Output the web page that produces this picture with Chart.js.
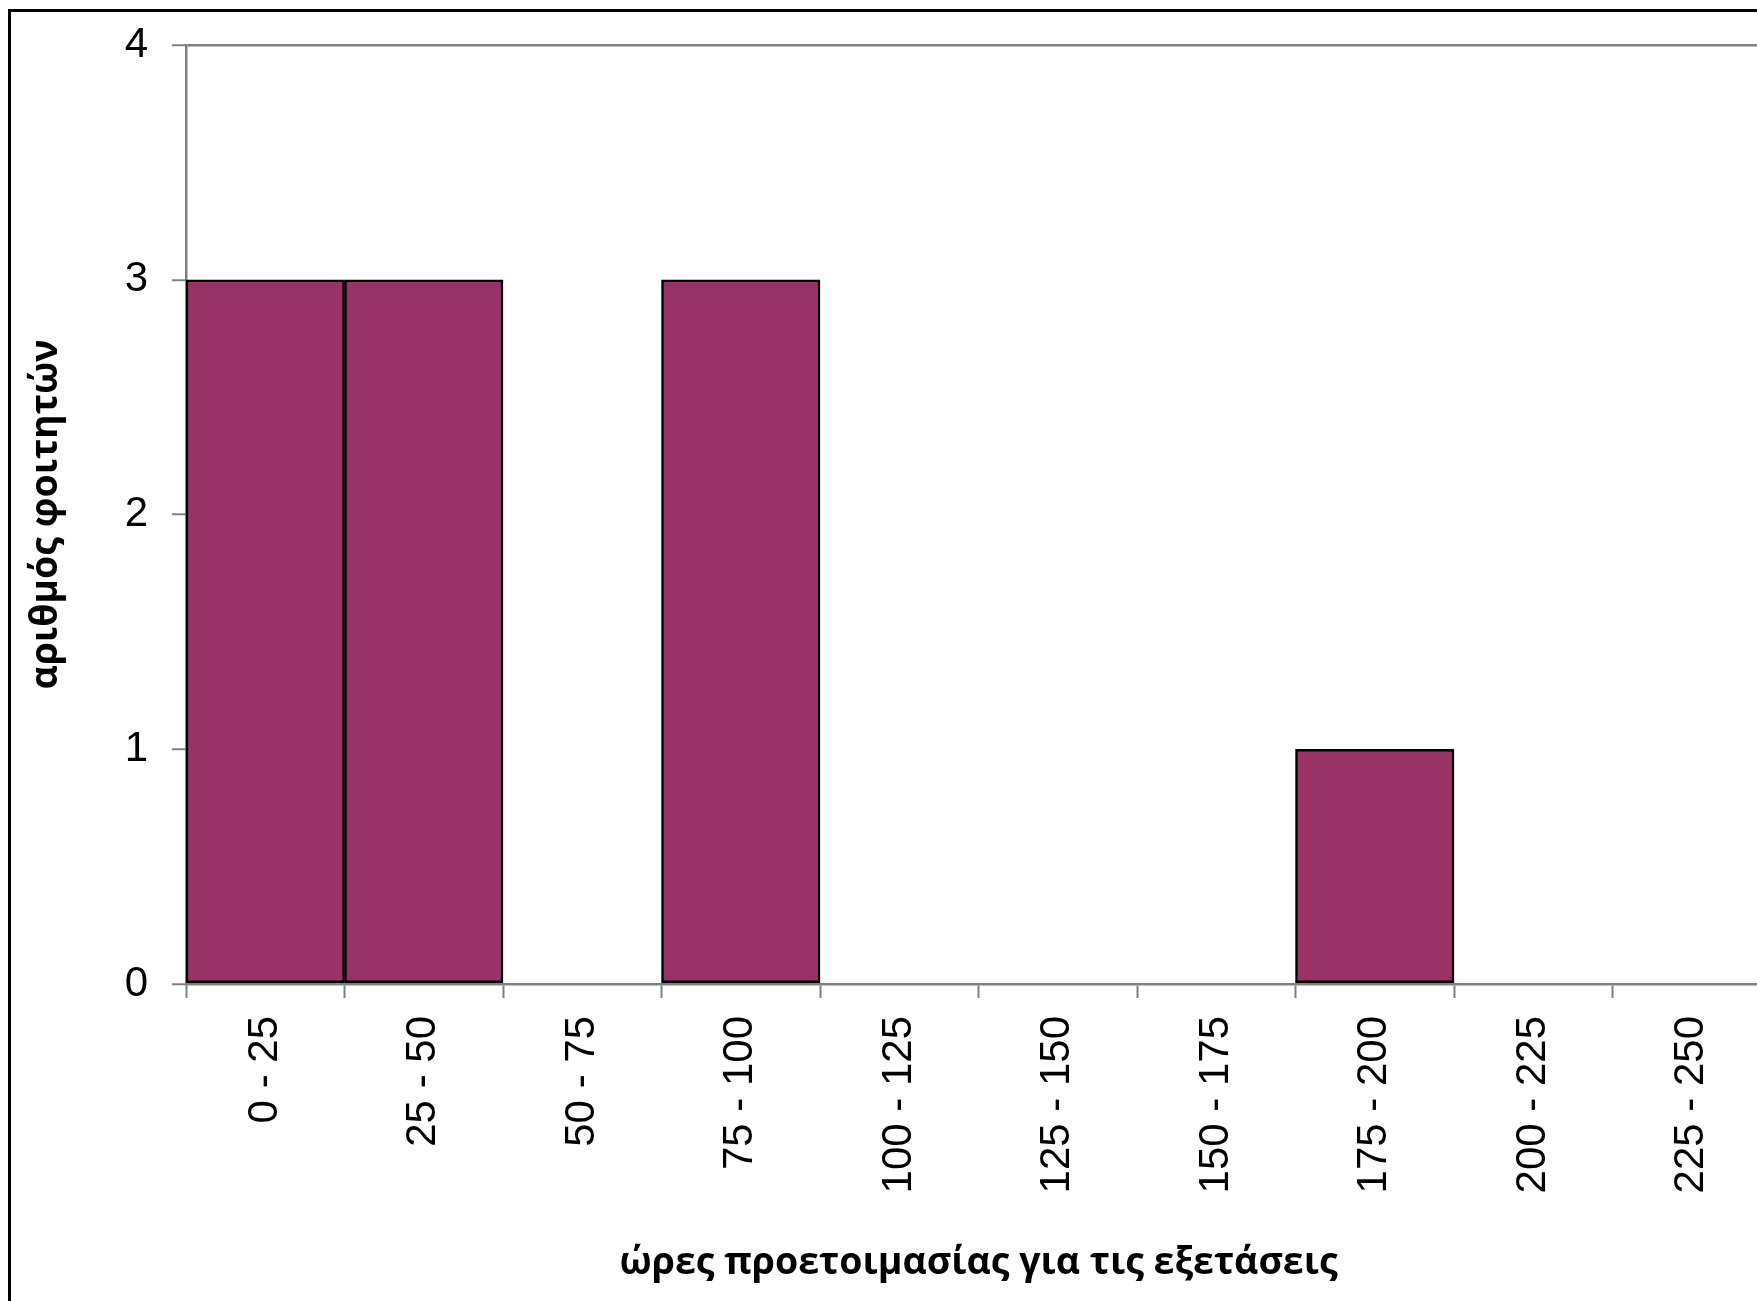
<!DOCTYPE html>
<html>
<head>
<meta charset="utf-8">
<script src="https://cdn.jsdelivr.net/npm/chart.js"></script>
<style>
  html, body { margin: 0; padding: 0; background: #fff; overflow: hidden; }
  .frame {
    position: absolute; left: 8px; top: 9px;
    width: 1830px; height: 1400px;
    border: 3px solid #000;
  }
  .chart-box {
    position: absolute; left: 0; top: 0;
    width: 1800px; height: 1340px;
  }
</style>
</head>
<body>
<div class="frame"></div>
<div class="chart-box"><canvas id="hist"></canvas></div>
<script>
// hours of study, in 25-hour bins
const categories = ['0 - 25', '25 - 50', '50 - 75', '75 - 100', '100 - 125',
  '125 - 150', '150 - 175', '175 - 200', '200 - 225', '225 - 250'];
const students = [3, 3, 0, 3, 0, 0, 0, 1, 0, 0];
const yTicks = [0, 1, 2, 3, 4];

const axisGray = '#808080';
const tickFont = { family: "'Liberation Sans', Arial, sans-serif", size: 42 };
const titleFont = { family: "'Open Sans', 'Noto Sans', sans-serif", size: 37.5, weight: 'bold' };

new Chart(document.getElementById('hist'), {
  type: 'bar',
  data: {
    labels: categories,
    datasets: [{
      data: students,
      backgroundColor: '#993366',
      borderColor: '#000',
      borderWidth: 2.5,
      borderSkipped: false,
      barPercentage: 1,
      categoryPercentage: 1
    }]
  },
  options: {
    responsive: true,
    maintainAspectRatio: false,
    animation: false,
    events: [],
    layout: { padding: { left: 0, top: 45, right: 29, bottom: 0 } },
    plugins: { legend: { display: false }, tooltip: { enabled: false } },
    scales: {
      x: {
        offset: true,
        grid: {
          offset: true,
          drawOnChartArea: false,
          tickLength: 14,
          tickColor: axisGray,
          tickWidth: 2
        },
        border: { color: axisGray, width: 2.5 },
        ticks: {
          color: '#000',
          font: tickFont,
          minRotation: 90,
          maxRotation: 90,
          autoSkip: false,
          padding: 18
        },
        title: {
          display: true,
          text: 'ώρες προετοιμασίας για τις εξετάσεις',
          color: '#000',
          font: titleFont,
          padding: { top: 0, bottom: 54 }
        },
        afterFit: (scale) => { scale.height = 356; }
      },
      y: {
        min: 0,
        max: 4,
        afterBuildTicks: (scale) => { scale.ticks = yTicks.map(v => ({ value: v })); },
        grid: {
          color: (ctx) => ctx.tick && ctx.tick.value === 4 ? axisGray : 'rgba(0,0,0,0)',
          lineWidth: 2.5,
          tickLength: 14,
          tickColor: axisGray,
          tickWidth: 2
        },
        border: { color: axisGray, width: 2.5 },
        ticks: {
          color: '#000',
          font: tickFont,
          padding: 24
        },
        title: {
          display: true,
          text: 'αριθμός φοιτητών',
          color: '#000',
          font: titleFont,
          padding: { top: 24, bottom: 0 }
        },
        afterFit: (scale) => {
          scale.width = 186;
          scale.paddingTop = 0;
          scale.paddingBottom = 0;
        }
      }
    }
  }
});
</script>
</body>
</html>
